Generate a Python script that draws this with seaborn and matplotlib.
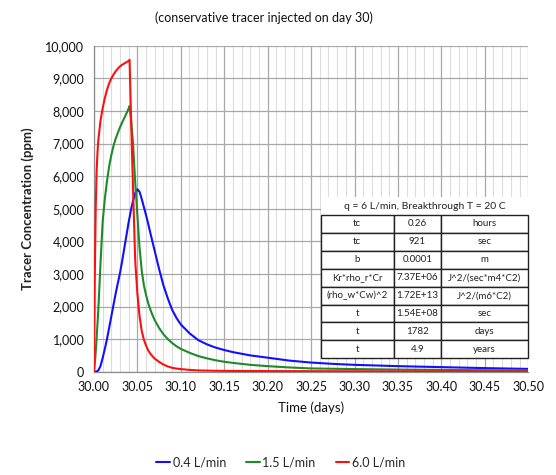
import numpy as np
import pandas as pd
import matplotlib
matplotlib.use("Agg")
import matplotlib.pyplot as plt
import seaborn as sns
from matplotlib.lines import Line2D
from matplotlib.patches import Rectangle
from matplotlib.ticker import MultipleLocator, FuncFormatter

# ------------------------------------------------------------------
# Data (time in days, concentration in ppm)
# ------------------------------------------------------------------
time_days = [30.000, 30.001, 30.002, 30.003, 30.004, 30.005, 30.0075, 30.010,
             30.0125, 30.015, 30.0175, 30.020, 30.0225, 30.025, 30.0275, 30.030,
             30.0325, 30.035, 30.0375, 30.040, 30.041, 30.0425, 30.045, 30.0475,
             30.050, 30.0525, 30.055, 30.0575, 30.060, 30.0625, 30.065, 30.0675,
             30.070, 30.075, 30.080, 30.085, 30.090, 30.095, 30.100, 30.110,
             30.120, 30.130, 30.140, 30.150, 30.160, 30.180, 30.200, 30.225,
             30.250, 30.275, 30.300, 30.350, 30.400, 30.450, 30.500]

conc_04 = [0, 0, 5, 10, 20, 40, 170, 420,
           700, 1000, 1350, 1700, 2050, 2400, 2720, 3030,
           3400, 3800, 4200, 4600, 4730, 4950, 5250, 5480,
           5600, 5520, 5300, 5050, 4800, 4530, 4250, 3970,
           3700, 3150, 2650, 2250, 1900, 1650, 1450, 1180,
           970, 840, 740, 665, 600, 500, 430, 340,
           280, 240, 210, 170, 140, 110, 85]

conc_15 = [0, 250, 600, 1000, 1450, 1900, 3300, 4600,
           5300, 5850, 6300, 6650, 6930, 7150, 7330, 7500,
           7650, 7790, 7930, 8080, 8150, 7800, 7000, 5800,
           4800, 3800, 3100, 2650, 2350, 2100, 1900, 1730,
           1580, 1340, 1150, 1000, 880, 780, 700, 580,
           480, 410, 350, 305, 270, 210, 170, 130,
           100, 90, 80, 65, 55, 45, 40]

conc_60 = [0, 3000, 5000, 6100, 6700, 7100, 7700, 8080,
           8400, 8650, 8850, 9000, 9120, 9220, 9300, 9370,
           9420, 9460, 9500, 9540, 9570, 8000, 5600, 3400,
           2400, 1700, 1250, 980, 800, 650, 550, 470,
           400, 300, 220, 160, 120, 95, 80, 55,
           40, 33, 28, 25, 23, 21, 19, 17,
           15, 14, 13, 11, 10, 9, 8]

flow_labels = ["0.4 L/min", "1.5 L/min", "6.0 L/min"]
flow_colors = ["#1010ff", "#1f8a2a", "#ff1010"]

table_title = "q = 6 L/min, Breakthrough T = 20 C"
table_names = ["tc", "tc", "b", "Kr*rho_r*Cr", "(rho_w*Cw)^2", "t", "t", "t"]
table_values = ["0.26", "921", "0.0001", "7.37E+06", "1.72E+13", "1.54E+08", "1782", "4.9"]
table_units = ["hours", "sec", "m", "J^2/(sec*m4*C2)", "J^2/(m6*C2)", "sec", "days", "years"]

# ------------------------------------------------------------------
# Long-form frame for seaborn
# ------------------------------------------------------------------
frames = []
for lab, vals in zip(flow_labels, [conc_04, conc_15, conc_60]):
    assert len(vals) == len(time_days), lab
    frames.append(pd.DataFrame({"time": time_days, "conc": vals, "flow": lab}))
df = pd.concat(frames, ignore_index=True)

sns.set_theme(style="white")
plt.rcParams["font.family"] = ["Lato", "DejaVu Sans"]

fig = plt.figure(figsize=(5.56, 4.75), dpi=100)
ax = fig.add_axes([0.169, 0.2175, 0.781, 0.686])

sns.lineplot(data=df, x="time", y="conc", hue="flow", estimator=None,
             palette=dict(zip(flow_labels, flow_colors)), linewidth=1.5,
             legend=False, ax=ax, zorder=3)

ax.set_xlim(30.0, 30.5)
ax.set_ylim(0, 10000)
ax.xaxis.set_major_locator(MultipleLocator(0.05))
ax.xaxis.set_minor_locator(MultipleLocator(0.01))
ax.yaxis.set_major_locator(MultipleLocator(1000))
ax.xaxis.set_major_formatter(FuncFormatter(lambda v, p: f"{v:.2f}"))
ax.yaxis.set_major_formatter(FuncFormatter(lambda v, p: f"{int(round(v)):,}"))

ax.grid(which="major", color="#a8a8a8", linewidth=0.9)
ax.grid(which="minor", axis="x", color="#dcdcdc", linewidth=0.8)
ax.set_axisbelow(True)

for side in ["top", "right"]:
    ax.spines[side].set_visible(False)
for side in ["left", "bottom"]:
    ax.spines[side].set_color("#8c8c8c")
    ax.spines[side].set_linewidth(0.9)

ax.tick_params(axis="both", which="major", direction="out", length=3,
               width=0.8, color="#8c8c8c", labelsize=9, pad=4, labelcolor="#111111")
ax.tick_params(axis="both", which="minor", length=0)

ax.set_xlabel("Time (days)", fontsize=9.5, color="#111111", labelpad=6)
ax.set_ylabel("Tracer Concentration (ppm)", fontsize=9.5, fontweight="bold",
              color="#222222", labelpad=8)

fig.text(0.475, 0.962, "(conservative tracer injected on day 30)",
         ha="center", va="center", fontsize=9, color="#111111")

# parameter table in the lower right of the plot
cells = [[n, v, u] for n, v, u in zip(table_names, table_values, table_units)]
tbl = ax.table(cellText=cells, cellLoc="center", colWidths=[0.35, 0.23, 0.42],
               bbox=[0.523, 0.041, 0.477, 0.44], zorder=5)
tbl.auto_set_font_size(False)
tbl.set_fontsize(7)
for cell in tbl.get_celld().values():
    cell.set_edgecolor("#222222")
    cell.set_linewidth(1.0)
    cell.set_facecolor("white")
    cell.get_text().set_color("#222222")

ax.add_patch(Rectangle((0.523, 0.481), 0.477, 0.055, transform=ax.transAxes,
                       facecolor="white", edgecolor="none", zorder=4))
ax.text(0.7615, 0.508, table_title, transform=ax.transAxes, ha="center",
        va="center", fontsize=7.5, color="#222222", zorder=6)

handles = [Line2D([0], [0], color=c, linewidth=1.5) for c in flow_colors]
fig.legend(handles, flow_labels, loc="center", bbox_to_anchor=(0.505, 0.027),
           ncol=3, frameon=False, fontsize=9, handlelength=1.1,
           handletextpad=0.2, columnspacing=1.6)

fig.savefig("out.png", dpi=100)
